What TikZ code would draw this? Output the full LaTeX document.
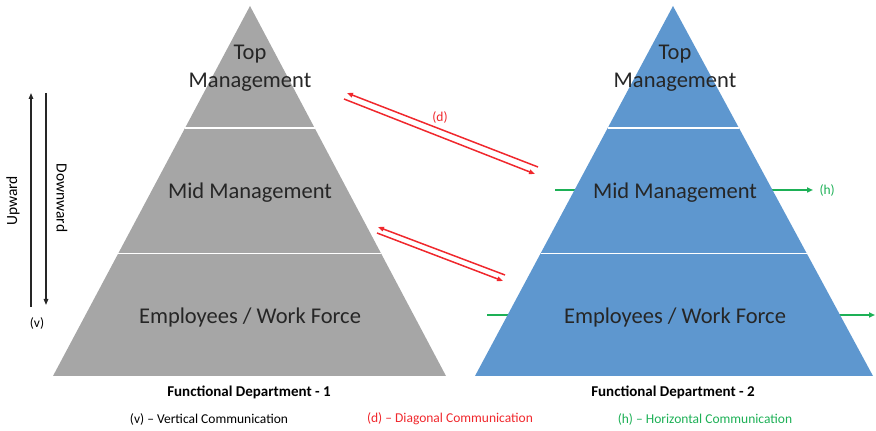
\documentclass[tikz,border=0pt]{standalone}
\usepackage{fontspec}
\setmainfont{Carlito}
\usetikzlibrary{arrows.meta,positioning,calc}
\definecolor{pyrgray}{HTML}{A6A6A6}
\definecolor{pyrblue}{HTML}{5E97CF}
\definecolor{diagred}{HTML}{F0282D}
\definecolor{horgreen}{HTML}{1DB056}

\begin{document}
\begin{tikzpicture}[
  x=1pt, y=1pt,
  level/.style={align=center, font=\fontsize{22.5}{28}\selectfont, text=black!85},
  dept/.style={font=\bfseries\fontsize{15}{17}\selectfont},
  legend/.style={font=\fontsize{13.5}{16}\selectfont},
  side/.style={font=\fontsize{15.5}{18}\selectfont},
  sep/.style={white, line width=1.2pt},
  varr/.style={-{Triangle[length=6pt,width=4.5pt]}, line width=1.4pt, black!85},
  darr/.style={-{Triangle[length=6pt,width=4.5pt]}, line width=1.5pt, diagred},
  harr/.style={-{Triangle[length=6pt,width=5pt]}, line width=1.6pt, horgreen}
]
\useasboundingbox (0,0) rectangle (876,431);

% horizontal communication (behind the second pyramid)
\coordinate (hmidA) at (555,241);
\coordinate (hmidB) at (813,241);
\coordinate (hempA) at (487,116);
\coordinate (hempB) at (875,116);
\draw[harr] (hmidA) -- (hmidB);
\draw[harr] (hempA) -- (hempB);
\node[anchor=west, text=horgreen, legend] (hlab) at (816,240) {(h)};

% pyramid 1
\coordinate (apexA) at (250,425);
\coordinate (blA) at (53,55);
\coordinate (brA) at (446,55);
\fill[pyrgray] (apexA) -- (blA) -- (brA) -- cycle;
\draw[sep] ($(apexA)!0.33!(blA)$) -- ($(apexA)!0.33!(brA)$);
\draw[sep] ($(apexA)!0.668!(blA)$) -- ($(apexA)!0.668!(brA)$);

% pyramid 2
\coordinate (apexB) at (673,425);
\coordinate (blB) at (475,55);
\coordinate (brB) at (873,55);
\fill[pyrblue] (apexB) -- (blB) -- (brB) -- cycle;
\draw[sep] ($(apexB)!0.33!(blB)$) -- ($(apexB)!0.33!(brB)$);
\draw[sep] ($(apexB)!0.668!(blB)$) -- ($(apexB)!0.668!(brB)$);

% level labels
\node[level] (topA) at (250,363) {Top\\Management};
\node[level] (midA) at (250,238) {Mid Management};
\node[level] (empA) at (250,113) {Employees / Work Force};
\node[level] (topB) at (675,363) {Top\\Management};
\node[level] (midB) at (675,238) {Mid Management};
\node[level] (empB) at (675,113) {Employees / Work Force};

% diagonal communication
\coordinate (d1a) at (538,264);
\coordinate (d1b) at (347,338);
\coordinate (d2a) at (344,332);
\coordinate (d2b) at (535,257);
\coordinate (d3a) at (505,156);
\coordinate (d3b) at (378,204);
\coordinate (d4a) at (377,198);
\coordinate (d4b) at (503,150);
\draw[darr] (d1a) -- (d1b);
\draw[darr] (d2a) -- (d2b);
\draw[darr] (d3a) -- (d3b);
\draw[darr] (d4a) -- (d4b);
\node[text=diagred, legend] (dlab) at (440,313) {(d)};

% vertical communication
\coordinate (upA) at (31,124);
\coordinate (upB) at (31,338);
\coordinate (dnA) at (46,338);
\coordinate (dnB) at (46,126);
\draw[varr] (upA) -- (upB);
\draw[varr] (dnA) -- (dnB);
\node[side, rotate=90] (uplab) at (13,230) {Upward};
\node[side, rotate=-90] (dnlab) at (62,233) {Downward};
\node[legend] (vlab) at (37,107) {(v)};

% captions
\node[dept] (deptA) at (249,39) {Functional Department - 1};
\node[dept] (deptB) at (673,39) {Functional Department - 2};
\node[legend] (legv) at (209,12) {(v) -- Vertical Communication};
\node[legend, text=diagred] (legd) at (450,12) {(d) -- Diagonal Communication};
\node[legend, text=horgreen] (legh) at (705,12) {(h) -- Horizontal Communication};
\end{tikzpicture}
\end{document}
